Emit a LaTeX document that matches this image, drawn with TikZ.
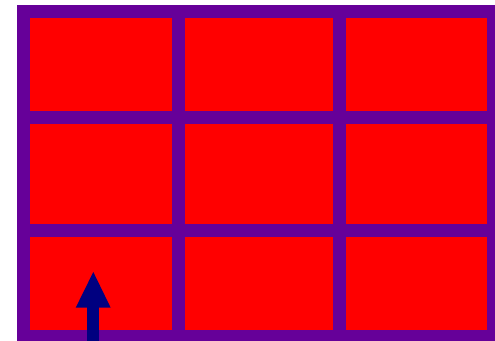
\documentclass[tikz,border=0pt]{standalone}
\definecolor{rejilla}{RGB}{102,0,153}
\definecolor{flecha}{RGB}{0,0,128}
\begin{document}
\begin{tikzpicture}[x=1pt, y=-1pt, barra/.style={draw=rejilla, line width=13pt}]
  \useasboundingbox (0,0) rectangle (495,340);
  \clip (0,0) rectangle (495,340);
  % celdas
  \fill[red] (17,5) rectangle (500,343);
  % rejilla
  \draw[barra] (23.5,11.5) rectangle (493.5,336.5);
  \draw[barra] (178.5,11.5) -- (178.5,336.5);
  \draw[barra] (339.5,11.5) -- (339.5,336.5);
  \draw[barra] (23.5,117.5) -- (493.5,117.5);
  \draw[barra] (23.5,230.5) -- (493.5,230.5);
  % flecha
  \fill[flecha] (87.3,345) rectangle (99.3,306);
  \fill[flecha] (75.7,307.7) -- (93.3,272) -- (110.7,307.7) -- cycle;
\end{tikzpicture}
\end{document}
